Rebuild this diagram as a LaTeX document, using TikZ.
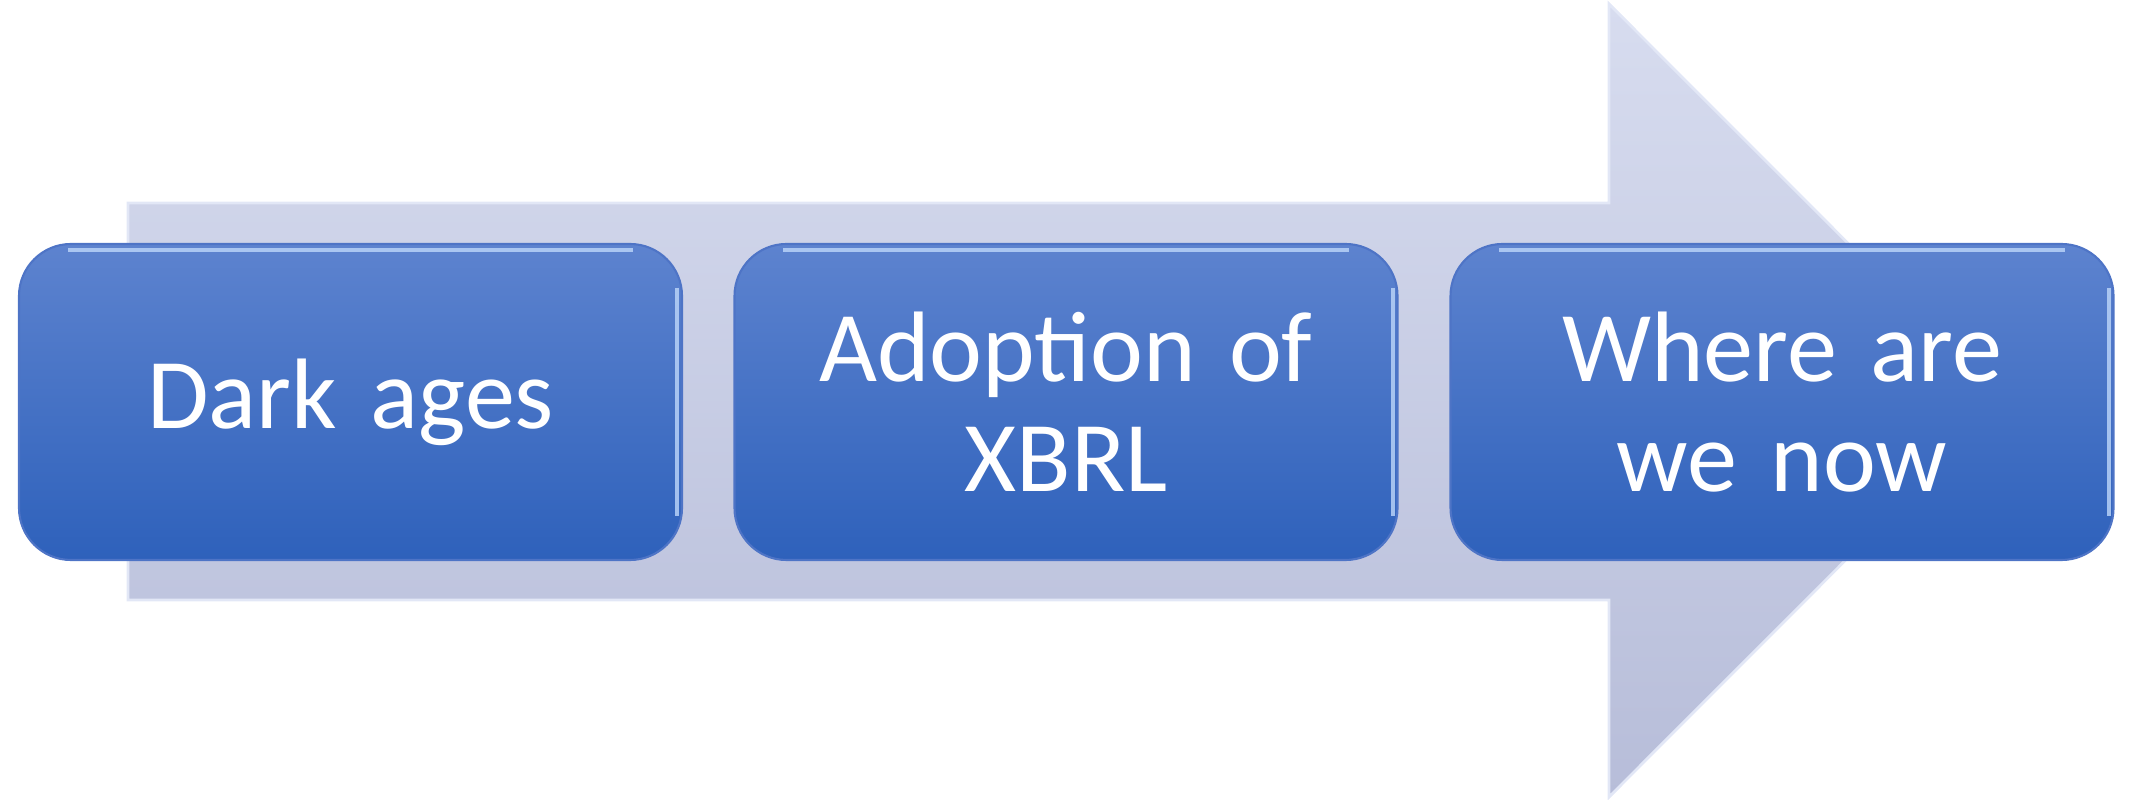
\documentclass[tikz,border=0pt]{standalone}
\usepackage{fontspec}
\setmainfont{Carlito}
\definecolor{arrowtop}{RGB}{215,220,239}
\definecolor{arrowbottom}{RGB}{183,189,217}
\definecolor{arrowedge}{RGB}{226,231,246}
\definecolor{stagetop}{RGB}{93,131,207}
\definecolor{stagebottom}{RGB}{46,97,187}
\definecolor{stageedge}{RGB}{78,116,198}
\definecolor{gloss}{RGB}{190,215,250}
\begin{document}
\begin{tikzpicture}[
	stage/.style={draw=stageedge, line width=0.6pt, rounded corners=0.52cm,
		top color=stagetop, bottom color=stagebottom,
		minimum width=6.63cm, minimum height=3.16cm, inner sep=0pt,
		text width=6.2cm, align=center, text=white,
		font=\fontsize{28.5}{31.3}\selectfont},
	shine/.style={gloss, line width=1.1pt, opacity=0.8}]
	\useasboundingbox (0, 0) rectangle (21.34, 8);
	\shadedraw[top color=arrowtop, bottom color=arrowbottom, draw=arrowedge, line width=0.8pt]
		(1.28, 2) -- (16.09, 2) -- (16.09, 0.03) -- (20.05, 3.995) -- (16.09, 7.96) -- (16.09, 5.97) -- (1.28, 5.97) -- cycle;
	\node[stage] (dark) at (3.505, 3.98) {Dark ages};
	\node[stage] (xbrl) at (10.66, 3.98) {Adoption of\\XBRL};
	\node[stage] (now) at (17.82, 3.98) {Where are\\we now};
	\foreach \n in {dark, xbrl, now} {
		\draw[shine] ([xshift=0.5cm, yshift=-0.07cm]\n.north west) -- ([xshift=-0.5cm, yshift=-0.07cm]\n.north east);
		\draw[shine] ([xshift=-0.06cm, yshift=-0.45cm]\n.north east) -- ([xshift=-0.06cm, yshift=0.45cm]\n.south east);
	}
\end{tikzpicture}
\end{document}
